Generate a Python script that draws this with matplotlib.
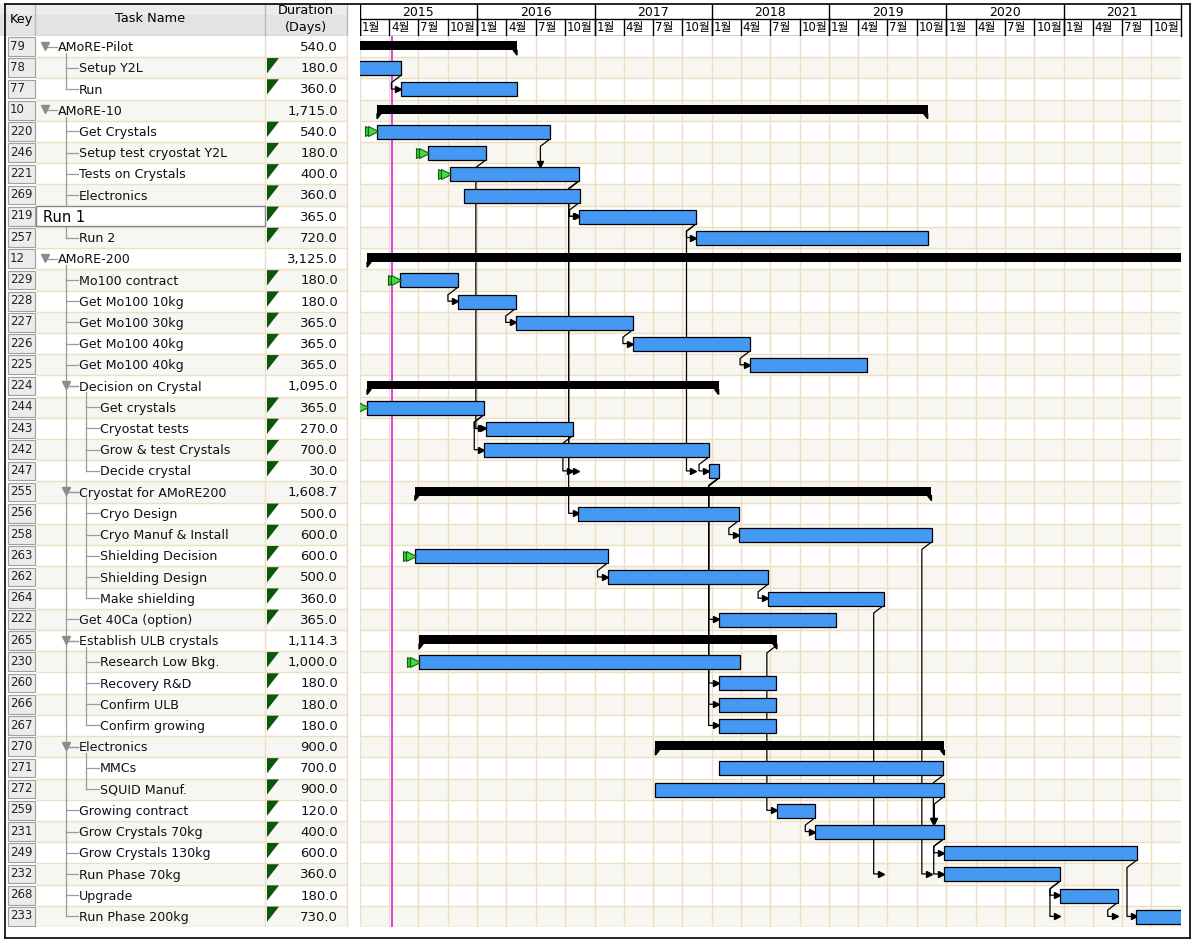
import matplotlib.pyplot as plt
import matplotlib.dates as mdates
from matplotlib.patches import Rectangle, Polygon
from matplotlib.lines import Line2D
import pandas as pd

plt.rcParams['font.family'] = ['DejaVu Sans', 'Noto Sans CJK KR']

# ---- data ----
keys = [79, 78, 77, 10, 220, 246, 221, 269, 219, 257, 12, 229, 228, 227, 226, 225,
        224, 244, 243, 242, 247, 255, 256, 258, 263, 262, 264, 222, 265, 230, 260,
        266, 267, 270, 271, 272, 259, 231, 249, 232, 268, 233]
names = ["AMoRE-Pilot", "Setup Y2L", "Run", "AMoRE-10", "Get Crystals",
         "Setup test cryostat Y2L", "Tests on Crystals", "Electronics", "Run 1", "Run 2",
         "AMoRE-200", "Mo100 contract", "Get Mo100 10kg", "Get Mo100 30kg", "Get Mo100 40kg",
         "Get Mo100 40kg", "Decision on Crystal", "Get crystals", "Cryostat tests",
         "Grow & test Crystals", "Decide crystal", "Cryostat for AMoRE200", "Cryo Design",
         "Cryo Manuf & Install", "Shielding Decision", "Shielding Design", "Make shielding",
         "Get 40Ca (option)", "Establish ULB crystals", "Research Low Bkg.", "Recovery R&D",
         "Confirm ULB", "Confirm growing", "Electronics", "MMCs", "SQUID Manuf.",
         "Growing contract", "Grow Crystals 70kg", "Grow Crystals 130kg", "Run Phase 70kg",
         "Upgrade", "Run Phase 200kg"]
levels = [0, 1, 1, 0, 1, 1, 1, 1, 1, 1, 0, 1, 1, 1, 1, 1,
          1, 2, 2, 2, 2, 1, 2, 2, 2, 2, 2, 1, 1, 2, 2,
          2, 2, 1, 2, 2, 1, 1, 1, 1, 1, 1]
summary_keys = [79, 10, 12, 224, 255, 265, 270]
durations = [540.0, 180.0, 360.0, 1715.0, 540.0, 180.0, 400.0, 360.0, 365.0, 720.0,
             3125.0, 180.0, 180.0, 365.0, 365.0, 365.0, 1095.0, 365.0, 270.0, 700.0,
             30.0, 1608.7, 500.0, 600.0, 600.0, 500.0, 360.0, 365.0, 1114.3, 1000.0,
             180.0, 180.0, 180.0, 900.0, 700.0, 900.0, 120.0, 400.0, 600.0, 360.0,
             180.0, 730.0]
starts = ["2014-11-11", "2014-11-11", "2015-05-10", "2015-02-23", "2015-02-23",
          "2015-08-01", "2015-10-09", "2015-11-21", "2016-11-14", "2017-11-14",
          "2015-01-23", "2015-05-06", "2015-11-02", "2016-04-30", "2017-04-30",
          "2018-04-30", "2015-01-23", "2015-01-23", "2016-01-29", "2016-01-23",
          "2017-12-23", "2015-06-21", "2016-11-11", "2018-03-27", "2015-06-21",
          "2017-02-10", "2018-06-25", "2018-01-22", "2015-07-04", "2015-07-04",
          "2018-01-22", "2018-01-22", "2018-01-22", "2017-07-09", "2018-01-22",
          "2017-07-09", "2018-07-22", "2018-11-19", "2019-12-26", "2019-12-26",
          "2020-12-20", "2021-08-14"]
constrained = [220, 246, 221, 229, 244, 263, 230]   # green start markers
links = [(78, 77), (220, 221), (246, 243), (244, 243), (244, 242), (221, 219),
         (269, 219), (221, 247), (221, 256), (219, 257), (219, 247), (243, 247),
         (242, 247), (229, 228), (228, 227), (227, 226), (226, 225), (247, 222),
         (247, 260), (247, 266), (247, 267), (256, 258), (263, 262), (262, 264),
         (264, 232), (265, 259), (258, 232), (259, 231), (231, 249), (231, 232),
         (271, 231), (272, 231), (249, 233), (232, 268), (232, 233), (268, 233)]
editing_key = 219
years = [2015, 2016, 2017, 2018, 2019, 2020, 2021]
quarter_months = [1, 4, 7, 10]
quarter_labels = ["1월", "4월", "7월", "10월"]
today = "2015-04-11"

# ---- layout ----
W, H = 1197, 943
TOP, BOT = 36, 927
n = len(keys)
fig = plt.figure(figsize=(W / 100, H / 100), dpi=100)
fig.patch.set_facecolor('white')


def fbox(x0, y0, x1, y1):
    return [x0 / W, 1 - y1 / H, (x1 - x0) / W, (y1 - y0) / H]


ax_t = fig.add_axes(fbox(0, TOP, 360, BOT))
ax_g = fig.add_axes(fbox(360, TOP, 1181, BOT))
ax_th = fig.add_axes(fbox(0, 4, 360, TOP))
ax_gh = fig.add_axes(fbox(360, 4, 1181, TOP))
for a in (ax_t, ax_g, ax_th, ax_gh):
    a.axis('off')

x0 = mdates.date2num(pd.Timestamp("2015-01-01"))
x1 = mdates.date2num(pd.Timestamp("2022-01-01"))
dpp = (x1 - x0) / 821.0   # days per pixel
ax_g.set_xlim(x0, x1)
ax_g.set_ylim(n - 0.5, -0.5)
ax_t.set_xlim(0, 360)
ax_t.set_ylim(n - 0.5, -0.5)
ax_th.set_xlim(0, 360)
ax_th.set_ylim(TOP, 4)
ax_gh.set_xlim(x0, x1)
ax_gh.set_ylim(TOP, 4)

start_num = [mdates.date2num(pd.Timestamp(s)) for s in starts]
row_of = {k: i for i, k in enumerate(keys)}
grid_c = '#ecdfc2'
shade_c = '#f7f6f0'

# ---- gantt body ----
for i in range(n):
    if i % 2 == 1:
        ax_g.axhspan(i - 0.5, i + 0.5, color=shade_c, lw=0, zorder=0)
    ax_g.axhline(i + 0.5, color=grid_c, lw=1, zorder=1)
for y in years:
    for m in quarter_months:
        ax_g.axvline(mdates.date2num(pd.Timestamp(y, m, 1)), color=grid_c, lw=1, zorder=1)
ax_g.axvline(mdates.date2num(pd.Timestamp(today)), color='#dd33dd', lw=1.3, zorder=2)

# dependency connectors
for p, s in links:
    ip, isc = row_of[p], row_of[s]
    pe = start_num[ip] + durations[ip]
    ss = start_num[isc]
    bot = ip + (0.22 if p in summary_keys else 0.34)
    xv = pe - 10 * dpp
    if ss >= pe - 5 * dpp:
        ax_g.plot([pe, xv, xv, pe - 3 * dpp], [bot, bot + 0.36, isc, isc],
                  color='black', lw=0.9, zorder=3)
        ax_g.plot(pe - 3 * dpp, isc, marker='>', ms=4.5, color='black', zorder=3)
    else:
        top = isc - 0.36
        ax_g.plot([pe, xv, xv], [bot, bot + 0.36, top - 0.12], color='black', lw=0.9, zorder=3)
        ax_g.plot(xv, top - 0.12, marker='v', ms=4, color='black', zorder=3)

# bars
for i, k in enumerate(keys):
    s, d = start_num[i], durations[i]
    if k in summary_keys:
        ax_g.barh(i - 0.05, d, left=s, height=0.42, color='black', zorder=4)
        b = i + 0.16
        ax_g.add_patch(Polygon([(s, b), (s + 4 * dpp, b), (s, b + 0.24)],
                               closed=True, color='black', zorder=4))
        e = s + d
        ax_g.add_patch(Polygon([(e, b), (e - 4 * dpp, b), (e, b + 0.24)],
                               closed=True, color='black', zorder=4))
    else:
        ax_g.barh(i + 0.02, d, left=s, height=0.66, color='#4699f2',
                  edgecolor='black', lw=0.9, zorder=4)
    if k in constrained:
        ax_g.plot(s - 7 * dpp, i, marker='>', ms=7, color='#2fcf2f', mec='#145f14',
                  mew=0.8, zorder=5)
        ax_g.plot(s - 4 * dpp, i, marker='>', ms=7, color='#3ee03e', mec='#145f14',
                  mew=0.8, zorder=5)

# ---- table body ----
text_x = [58, 79, 100]
vline_x = [66, 86]
for i, k in enumerate(keys):
    if i % 2 == 1:
        ax_t.add_patch(Rectangle((36, i - 0.5), 311, 1, color='#f6f6f3', lw=0, zorder=0))
    ax_t.plot([36, 347], [i + 0.5, i + 0.5], color=grid_c, lw=1, zorder=1)
    # key button
    ax_t.add_patch(Rectangle((8, i - 0.44), 27, 0.88, facecolor='#ececec',
                             edgecolor='#a0a0a0', lw=0.8, zorder=2))
    ax_t.text(10, i - 0.02, str(k), fontsize=8.5, va='center', ha='left', color='#222', zorder=3)
    # duration
    ax_t.text(338, i + 0.04, f"{durations[i]:,.1f}", fontsize=9.5, va='center', ha='right',
              color='#111', zorder=3)
    if k not in summary_keys:
        ax_t.add_patch(Polygon([(267, i - 0.46), (279, i - 0.46), (267, i + 0.26)],
                               closed=True, color='#0b560b', lw=0, zorder=3))
for xs in (265, 347):
    ax_t.plot([xs, xs], [-0.5, n - 0.5], color=grid_c, lw=1, zorder=1)

# tree lines and names
for i, k in enumerate(keys):
    L = levels[i]
    tx = text_x[L]
    if k in summary_keys:
        ax_t.plot([tx - 12, tx - 1], [i, i], color='#9a9a9a', lw=0.9, zorder=2)
        ax_t.plot(tx - 13, i - 0.05, marker='v', ms=6, color='#8c8c8c', zorder=3)
        last = i
        for j in range(i + 1, n):
            if levels[j] <= L:
                break
            if levels[j] == L + 1:
                last = j
                ax_t.plot([vline_x[L], text_x[L + 1] - 1], [j, j], color='#9a9a9a',
                          lw=0.9, zorder=2)
        ax_t.plot([vline_x[L], vline_x[L]], [i + 0.3, last], color='#9a9a9a', lw=0.9, zorder=2)
    if k == editing_key:
        ax_t.add_patch(Rectangle((36, i - 0.47), 229, 0.94, facecolor='white',
                                 edgecolor='#8a8a8a', lw=1, zorder=4))
        ax_t.text(43, i + 0.04, names[i], fontsize=10.5, va='center', ha='left', zorder=5)
    else:
        ax_t.text(tx, i + 0.05, names[i], fontsize=9.1, va='center', ha='left',
                  color='#111', zorder=3)

# ---- table header ----
ax_th.add_patch(Rectangle((0, 4), 347, 32, color='#e3e3e3', lw=0))
ax_th.add_patch(Rectangle((0, 4), 347, 11, color='#ececec', lw=0))
for xs in (35, 265, 347):
    ax_th.plot([xs, xs], [4, TOP], color='#b8b8b8', lw=1)
ax_th.plot([0, 347], [TOP - 0.5, TOP - 0.5], color='#b8b8b8', lw=1)
ax_th.text(21, 19, "Key", fontsize=9.3, ha='center', va='center')
ax_th.text(150, 19, "Task Name", fontsize=9.3, ha='center', va='center')
ax_th.text(306, 19, "Duration\n(Days)", fontsize=9.3, ha='center', va='center', linespacing=1.3)

# ---- timeline header ----
for y in years:
    ax_gh.text(mdates.date2num(pd.Timestamp(y, 7, 2)), 12, str(y), fontsize=9,
               ha='center', va='center')
    for m, lab in zip(quarter_months, quarter_labels):
        q = mdates.date2num(pd.Timestamp(y, m, 1))
        ax_gh.plot([q, q], [19, TOP], color='black', lw=1)
        ax_gh.text(q + 2 * dpp, 27.5, lab, fontsize=8.5, ha='left', va='center')
    yb = mdates.date2num(pd.Timestamp(y, 1, 1))
    ax_gh.plot([yb, yb], [4, TOP], color='black', lw=1)
ax_gh.plot([x1, x1], [4, TOP], color='black', lw=1, clip_on=False)
ax_gh.plot([x0, x1], [19, 19], color='black', lw=1)
ax_gh.plot([x0, x1], [TOP - 0.5, TOP - 0.5], color='black', lw=1)

# ---- window frame ----
fr = dict(color='black', lw=1.2, transform=fig.transFigure)
fig.add_artist(Line2D([5 / W, 1190 / W], [1 - 4 / H, 1 - 4 / H], **fr))
fig.add_artist(Line2D([5 / W, 1190 / W], [1 - 938 / H, 1 - 938 / H], **fr))
fig.add_artist(Line2D([5 / W, 5 / W], [1 - 4 / H, 1 - 938 / H], **fr))
fig.add_artist(Line2D([1190 / W, 1190 / W], [1 - 4 / H, 1 - 938 / H], **fr))

fig.savefig("out.png", dpi=100)
